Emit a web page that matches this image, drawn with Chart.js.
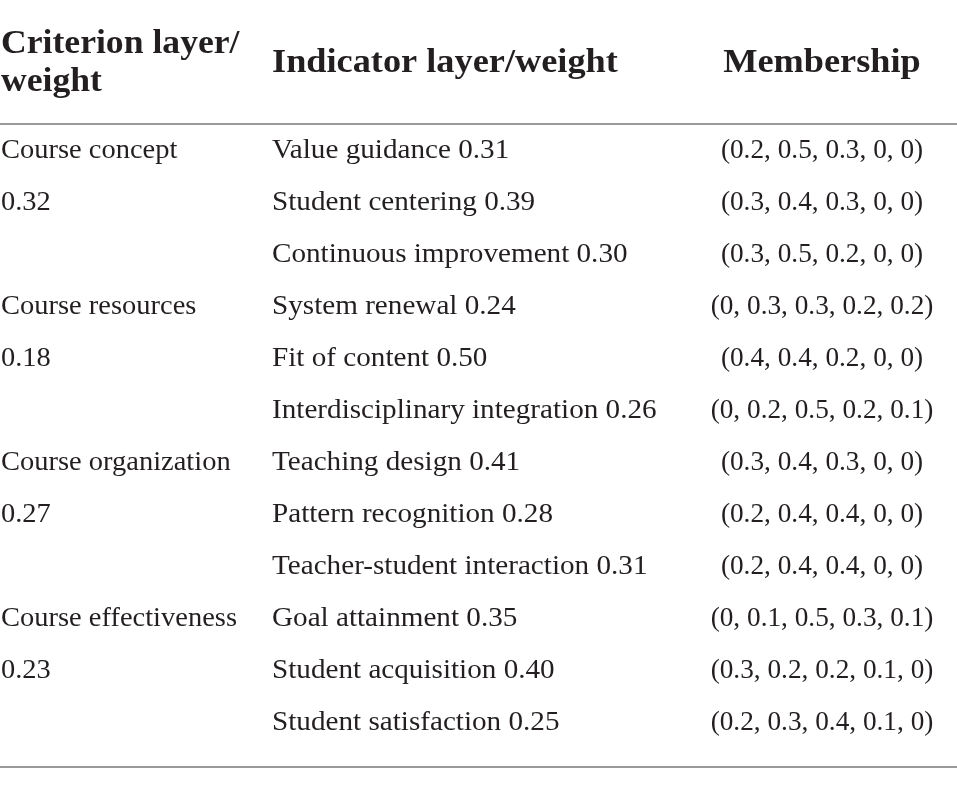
<!DOCTYPE html>
<html>
<head>
<meta charset="utf-8">
<script src="https://cdn.jsdelivr.net/npm/chart.js@4"></script>
<style>
html,body{margin:0;padding:0;background:#fff;}
#wrap{width:957px;height:786px;position:relative;}
</style>
</head>
<body>
<div id="wrap"><canvas id="c"></canvas></div>
<script>
const headers = ['Criterion layer/\nweight', 'Indicator layer/weight', 'Membership'];
const criteria = ['Course concept', 'Course resources', 'Course organization', 'Course effectiveness'];
const criterionWeights = ['0.32', '0.18', '0.27', '0.23'];
const indicators = ['Value guidance', 'Student centering', 'Continuous improvement',
  'System renewal', 'Fit of content', 'Interdisciplinary integration',
  'Teaching design', 'Pattern recognition', 'Teacher-student interaction',
  'Goal attainment', 'Student acquisition', 'Student satisfaction'];
const indicatorWeights = ['0.31', '0.39', '0.30', '0.24', '0.50', '0.26', '0.41', '0.28', '0.31', '0.35', '0.40', '0.25'];
const memberships = [
  [0.2, 0.5, 0.3, 0, 0], [0.3, 0.4, 0.3, 0, 0], [0.3, 0.5, 0.2, 0, 0],
  [0, 0.3, 0.3, 0.2, 0.2], [0.4, 0.4, 0.2, 0, 0], [0, 0.2, 0.5, 0.2, 0.1],
  [0.3, 0.4, 0.3, 0, 0], [0.2, 0.4, 0.4, 0, 0], [0.2, 0.4, 0.4, 0, 0],
  [0, 0.1, 0.5, 0.3, 0.1], [0.3, 0.2, 0.2, 0.1, 0], [0.2, 0.3, 0.4, 0.1, 0]
];

// layout (not data)
const COL_X = [0, 272, 822];
const COL_ALIGN = ['left', 'left', 'center'];
const BODY_STRETCH = [1.055, 1.08, 1.01];
const HEAD_STRETCH = [1.08, 1.10, 1.10];
const HEADER_ROW = -1.65;
const RULES = [-0.654, 11.71];
const TEXT_COLOR = '#231f20';
const BODY_FONT = '27px "Liberation Serif", serif';
const HEAD_FONT = 'bold 33px "Liberation Serif", serif';

// build cells
const col1 = [], col2 = [], col3 = [];
criteria.forEach((c, k) => {
  col1.push({ x: COL_X[0], y: k * 3, t: c });
  col1.push({ x: COL_X[0], y: k * 3 + 1, t: criterionWeights[k] });
});
indicators.forEach((n, i) => {
  col2.push({ x: COL_X[1], y: i, t: n + ' ' + indicatorWeights[i] });
  col3.push({ x: COL_X[2], y: i, t: '(' + memberships[i].join(', ') + ')' });
});
const head = headers.map((h, j) => ({ x: COL_X[j], y: HEADER_ROW, t: h }));

const textPlugin = {
  id: 'tableText',
  afterDatasetsDraw(chart) {
    const ctx = chart.ctx;
    const ys = chart.scales.y;
    const area = chart.chartArea;
    ctx.save();
    ctx.strokeStyle = '#9a9a9a';
    ctx.lineWidth = 2;
    RULES.forEach(r => {
      const py = Math.round(ys.getPixelForValue(r));
      ctx.beginPath();
      ctx.moveTo(area.left, py);
      ctx.lineTo(area.right, py);
      ctx.stroke();
    });
    ctx.fillStyle = TEXT_COLOR;
    ctx.textBaseline = 'alphabetic';
    chart.data.datasets.forEach((ds, di) => {
      const meta = chart.getDatasetMeta(di);
      meta.data.forEach((el, i) => {
        const raw = ds.data[i];
        const colIdx = COL_X.indexOf(raw.x);
        const sx = ds.isHeader ? HEAD_STRETCH[colIdx] : BODY_STRETCH[colIdx];
        const lines = raw.t.split('\n');
        const lh = 38;
        const y0 = el.y - (lines.length - 1) * lh / 2;
        lines.forEach((ln, li) => {
          ctx.save();
          ctx.font = ds.isHeader ? HEAD_FONT : BODY_FONT;
          ctx.textAlign = COL_ALIGN[colIdx];
          ctx.translate(el.x + (colIdx === 0 ? 1 : 0), y0 + li * lh);
          ctx.scale(sx, 1);
          ctx.fillText(ln, 0, 0);
          ctx.restore();
        });
      });
    });
    ctx.restore();
  }
};

const mk = (data, isHeader) => ({ data, isHeader, pointRadius: 0, pointHoverRadius: 0, showLine: false });

new Chart(document.getElementById('c'), {
  type: 'scatter',
  data: { datasets: [mk(head, true), mk(col1), mk(col2), mk(col3)] },
  options: {
    responsive: true,
    maintainAspectRatio: false,
    animation: false,
    events: [],
    layout: { padding: 0 },
    plugins: { legend: { display: false }, tooltip: { enabled: false } },
    scales: {
      x: { type: 'linear', display: false, min: 0, max: 957 },
      y: { type: 'linear', display: false, reverse: true, min: -158 / 52, max: (786 - 158) / 52 }
    }
  },
  plugins: [textPlugin]
});
</script>
</body>
</html>
